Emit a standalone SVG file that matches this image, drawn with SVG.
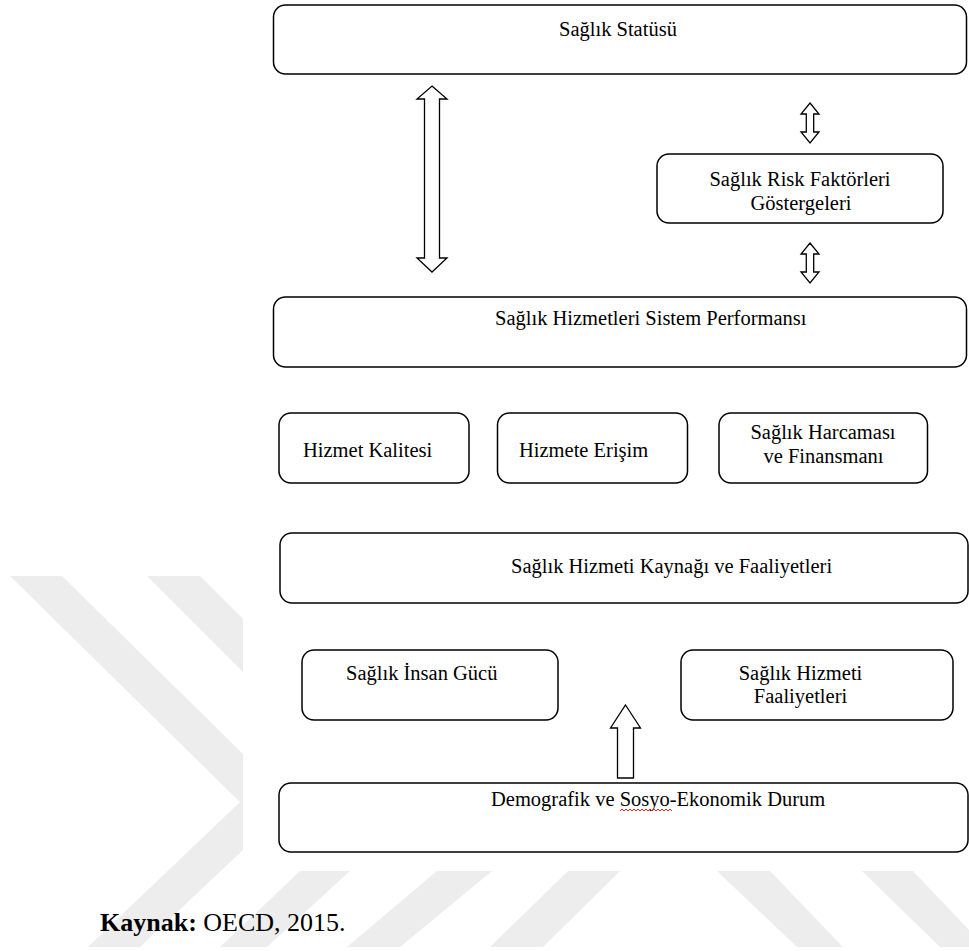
<svg xmlns="http://www.w3.org/2000/svg" width="969" height="951" viewBox="0 0 969 951">
  <style>
    .box { fill: #ffffff; stroke: #000000; stroke-width: 1.5; }
    .lbl { font-family: "Liberation Serif", "Times New Roman", serif; font-size: 20.5px; fill: #000000; }
    .mid { text-anchor: middle; }
    .arrow { fill: #ffffff; stroke: #000000; stroke-width: 1.3; stroke-linejoin: miter; }
    .wm { fill: #ededed; }
    .cap { font-family: "Liberation Serif", "Times New Roman", serif; font-size: 26px; fill: #000000; }
  </style>

  <rect x="0" y="0" width="969" height="951" fill="#ffffff"/>

  <!-- light background chevrons -->
  <g id="watermark">
    <polygon class="wm" points="10,576 62,576 243,754 243,850 140,947 88,947 240,802"/>
    <polygon class="wm" points="147,576 200,576 243,619 243,672"/>
    <polygon class="wm" points="300,871 350,871 267,947 220,947"/>
    <polygon class="wm" points="437,871 492,871 400,947 347,947"/>
    <polygon class="wm" points="568,871 620,871 543,947 490,947"/>
    <polygon class="wm" points="717,871 770,871 843,947 797,947"/>
    <polygon class="wm" points="862,871 913,871 969,930 969,947 940,947"/>
  </g>

  <g id="saglik-statusu">
    <rect class="box" x="273.5" y="5" width="693" height="69" rx="12"/>
    <text class="lbl" x="559" y="36">Sağlık Statüsü</text>
  </g>

  <g id="risk-faktorleri">
    <rect class="box" x="657" y="154" width="286" height="69" rx="12"/>
    <text class="lbl mid" x="800" y="186">Sağlık Risk Faktörleri</text>
    <text class="lbl mid" x="801" y="210">Göstergeleri</text>
  </g>

  <g id="sistem-performansi">
    <rect class="box" x="273.5" y="297" width="693" height="70" rx="12"/>
    <text class="lbl" x="495" y="325">Sağlık Hizmetleri Sistem Performansı</text>
  </g>

  <g id="hizmet-kalitesi">
    <rect class="box" x="279" y="413" width="190" height="70" rx="12"/>
    <text class="lbl" x="303" y="457">Hizmet Kalitesi</text>
  </g>

  <g id="hizmete-erisim">
    <rect class="box" x="497.5" y="413" width="190" height="70" rx="12"/>
    <text class="lbl" x="519" y="457">Hizmete Erişim</text>
  </g>

  <g id="harcama-finansman">
    <rect class="box" x="719" y="413" width="208.5" height="70" rx="12"/>
    <text class="lbl mid" x="823" y="439">Sağlık Harcaması</text>
    <text class="lbl mid" x="823.5" y="463">ve Finansmanı</text>
  </g>

  <g id="kaynak-faaliyetler">
    <rect class="box" x="280" y="533" width="688" height="70" rx="12"/>
    <text class="lbl" x="511" y="573">Sağlık Hizmeti Kaynağı ve Faaliyetleri</text>
  </g>

  <g id="insan-gucu">
    <rect class="box" x="302" y="650" width="256" height="70" rx="12"/>
    <text class="lbl" x="346" y="680">Sağlık İnsan Gücü</text>
  </g>

  <g id="hizmet-faaliyetleri">
    <rect class="box" x="681" y="650" width="272" height="70" rx="12"/>
    <text class="lbl mid" x="800.5" y="680">Sağlık Hizmeti</text>
    <text class="lbl mid" x="800.5" y="703">Faaliyetleri</text>
  </g>

  <g id="demografik-durum">
    <rect class="box" x="279" y="783" width="689" height="69" rx="12"/>
    <text class="lbl" x="491" y="806">Demografik ve Sosyo-Ekonomik Durum</text>
    <!-- spell-check squiggle under "Sosyo" -->
    <path d="M620,811 l2,-2 l2,2 l2,-2 l2,2 l2,-2 l2,2 l2,-2 l2,2 l2,-2 l2,2 l2,-2 l2,2 l2,-2 l2,2 l2,-2 l2,2 l2,-2 l2,2 l2,-2 l2,2 l2,-2 l2,2 l2,-2 l2,2 l2,-2 l2,2" fill="none" stroke="#e02020" stroke-width="1"/>
  </g>

  <g id="connectors">
    <!-- long double arrow: status <-> system performance -->
    <path class="arrow" d="M432,86 L447,99 L439.5,99 L439.5,258 L447,258 L432,272 L417,258 L424.5,258 L424.5,99 L417,99 Z"/>
    <!-- short double arrows around the risk factor box -->
    <path class="arrow" d="M810,103 L819,114 L813.7,114 L813.7,132 L819,132 L810,143 L801,132 L806.3,132 L806.3,114 L801,114 Z"/>
    <path class="arrow" d="M810,243 L819,254 L813.7,254 L813.7,272 L819,272 L810,283 L801,272 L806.3,272 L806.3,254 L801,254 Z"/>
    <!-- single up arrow from demographics -->
    <path class="arrow" d="M625.5,705 L640.5,728 L633.5,728 L633.5,778 L617.5,778 L617.5,728 L610.5,728 Z"/>
  </g>

  <g id="caption">
    <text class="cap" x="100" y="931"><tspan font-weight="bold">Kaynak:</tspan> OECD, 2015.</text>
  </g>
</svg>
